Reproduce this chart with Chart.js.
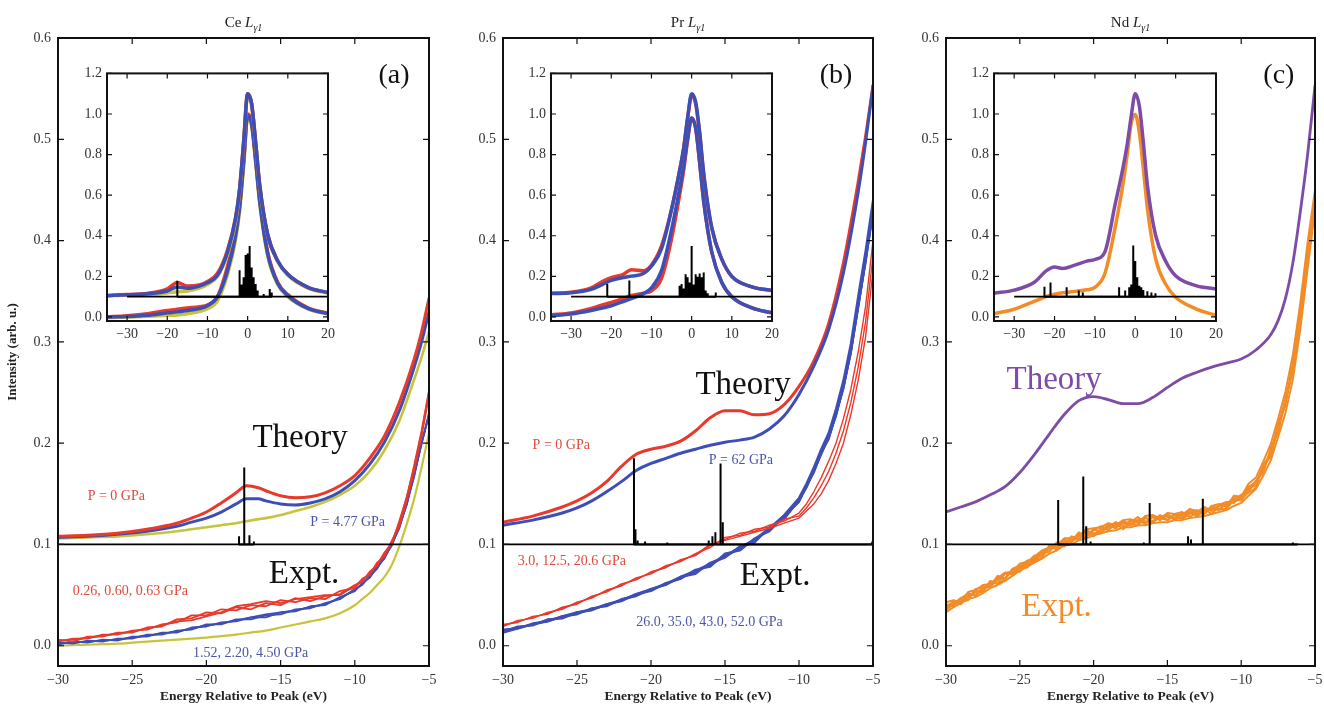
<!DOCTYPE html>
<html>
<head>
<meta charset="utf-8">
<script src="https://cdn.jsdelivr.net/npm/chart.js@4.4.0/dist/chart.umd.min.js"></script>
<style>
  html, body { margin: 0; padding: 0; background: #fff; overflow: hidden; }
  #fig { position: relative; width: 1324px; height: 710px; overflow: hidden; }
  #fig canvas { position: absolute; }
</style>
</head>
<body>
<div id="fig"></div>
<script>
// ---- main panels: axis ticks ----
const MAIN_X_TICKS = [-30, -25, -20, -15, -10, -5];
const MAIN_Y_TICKS = [0.0, 0.1, 0.2, 0.3, 0.4, 0.5, 0.6];
const INSET_X_TICKS = [-30, -20, -10, 0, 10, 20];
const INSET_Y_TICKS = [0.0, 0.2, 0.4, 0.6, 0.8, 1.0, 1.2];
const BASE = 0.1; // offset line between theory and experiment

// ---- (a) Ce ----
const TA_E = [-30, -28, -26, -24, -22, -21, -20, -19, -18, -17.3, -16.5, -16, -15, -14, -13, -12, -11, -10, -9, -8, -7, -6, -5.5, -5];
const TA_RED = [0.108, 0.109, 0.111, 0.115, 0.121, 0.126, 0.132, 0.141, 0.151, 0.158, 0.156, 0.153, 0.148, 0.146, 0.147, 0.151, 0.158, 0.168, 0.185, 0.207, 0.24, 0.283, 0.31, 0.343];
const TA_BLUE = [0.107, 0.108, 0.110, 0.113, 0.118, 0.122, 0.126, 0.132, 0.140, 0.145, 0.145, 0.143, 0.140, 0.139, 0.141, 0.145, 0.152, 0.163, 0.179, 0.201, 0.232, 0.275, 0.3, 0.33];
const TA_YEL = [0.106, 0.107, 0.108, 0.110, 0.113, 0.115, 0.117, 0.119, 0.121, 0.123, 0.125, 0.126, 0.129, 0.133, 0.137, 0.142, 0.149, 0.158, 0.172, 0.193, 0.222, 0.263, 0.285, 0.31];

const EXP_E = [-30, -29, -28, -27, -26, -25, -24, -23, -22, -21, -20, -19, -18, -17, -16, -15, -14, -13, -12, -11, -10, -9.5, -9, -8.5, -8, -7.5, -7, -6.5, -6, -5.5, -5];
const EA_RED1 = [0.006, 0.004, 0.009, 0.009, 0.013, 0.013, 0.018, 0.019, 0.026, 0.027, 0.033, 0.032, 0.038, 0.036, 0.042, 0.040, 0.047, 0.044, 0.049, 0.051, 0.060, 0.063, 0.073, 0.079, 0.092, 0.101, 0.123, 0.146, 0.178, 0.212, 0.252];
const EA_RED2 = [0.004, 0.007, 0.007, 0.011, 0.011, 0.015, 0.016, 0.021, 0.023, 0.030, 0.030, 0.036, 0.035, 0.040, 0.039, 0.045, 0.043, 0.047, 0.046, 0.054, 0.057, 0.066, 0.070, 0.082, 0.088, 0.104, 0.118, 0.143, 0.173, 0.207, 0.247];
const EA_RED3 = [0.005, 0.006, 0.008, 0.010, 0.012, 0.014, 0.017, 0.020, 0.024, 0.025, 0.029, 0.033, 0.039, 0.041, 0.044, 0.042, 0.046, 0.048, 0.050, 0.050, 0.059, 0.065, 0.071, 0.080, 0.091, 0.102, 0.121, 0.147, 0.176, 0.210, 0.25];
const EA_BLUE1 = [0.003, 0.002, 0.005, 0.004, 0.007, 0.007, 0.011, 0.011, 0.015, 0.016, 0.021, 0.021, 0.026, 0.026, 0.030, 0.031, 0.036, 0.037, 0.042, 0.046, 0.056, 0.060, 0.069, 0.076, 0.088, 0.099, 0.118, 0.139, 0.170, 0.199, 0.23];
const EA_BLUE2 = [0.001, 0.004, 0.003, 0.006, 0.005, 0.009, 0.009, 0.013, 0.013, 0.018, 0.019, 0.023, 0.024, 0.028, 0.028, 0.033, 0.034, 0.039, 0.040, 0.048, 0.054, 0.062, 0.067, 0.078, 0.086, 0.101, 0.116, 0.141, 0.167, 0.201, 0.227];
const EA_BLUE3 = [0.002, 0.003, 0.004, 0.005, 0.006, 0.008, 0.010, 0.012, 0.014, 0.017, 0.020, 0.022, 0.025, 0.028, 0.031, 0.033, 0.035, 0.038, 0.041, 0.047, 0.055, 0.061, 0.068, 0.077, 0.087, 0.100, 0.117, 0.140, 0.168, 0.200, 0.228];
const EA_YEL = [0.0, 0.0005, 0.001, 0.0015, 0.002, 0.003, 0.004, 0.005, 0.006, 0.007, 0.008, 0.0095, 0.011, 0.013, 0.015, 0.018, 0.021, 0.024, 0.027, 0.032, 0.04, 0.046, 0.052, 0.06, 0.068, 0.08, 0.098, 0.12, 0.145, 0.176, 0.21];

const SA_E = [-17.8, -17.45, -17.1, -16.8];
const SA_TOP = [0.108, 0.176, 0.109, 0.103];

// ---- (b) Pr ----
const TB_E = [-30, -28, -26, -25, -24, -23, -22, -21, -20, -19, -18, -17, -16, -15, -14, -13, -12, -11, -10, -9, -8, -7, -6, -5.5, -5];
const TB_RED = [0.122, 0.128, 0.137, 0.143, 0.151, 0.162, 0.177, 0.189, 0.194, 0.197, 0.202, 0.212, 0.225, 0.232, 0.232, 0.228, 0.229, 0.238, 0.256, 0.281, 0.318, 0.378, 0.458, 0.503, 0.553];
const TB_BLUE = [0.119, 0.124, 0.131, 0.136, 0.143, 0.152, 0.162, 0.173, 0.180, 0.185, 0.19, 0.194, 0.198, 0.201, 0.203, 0.206, 0.214, 0.227, 0.248, 0.276, 0.312, 0.368, 0.448, 0.497, 0.553];

const EB_RED1 = [0.021, 0.023, 0.029, 0.031, 0.038, 0.041, 0.049, 0.053, 0.061, 0.065, 0.073, 0.077, 0.085, 0.089, 0.099, 0.105, 0.111, 0.113, 0.119, 0.123, 0.131, 0.140, 0.152, 0.166, 0.182, 0.200, 0.224, 0.253, 0.290, 0.335, 0.40];
const EB_RED2 = [0.019, 0.025, 0.027, 0.033, 0.036, 0.043, 0.047, 0.055, 0.059, 0.067, 0.071, 0.079, 0.083, 0.091, 0.097, 0.107, 0.109, 0.115, 0.117, 0.125, 0.128, 0.136, 0.146, 0.158, 0.172, 0.19, 0.212, 0.24, 0.275, 0.32, 0.385];
const EB_RED3 = [0.020, 0.024, 0.028, 0.032, 0.037, 0.042, 0.048, 0.054, 0.060, 0.066, 0.072, 0.078, 0.084, 0.090, 0.100, 0.104, 0.108, 0.112, 0.116, 0.121, 0.126, 0.133, 0.140, 0.150, 0.163, 0.180, 0.200, 0.228, 0.262, 0.305, 0.37];
const EB_BLUE1 = [0.014, 0.019, 0.020, 0.026, 0.027, 0.033, 0.035, 0.041, 0.044, 0.051, 0.054, 0.062, 0.066, 0.075, 0.078, 0.091, 0.094, 0.106, 0.113, 0.128, 0.142, 0.158, 0.171, 0.191, 0.204, 0.229, 0.254, 0.291, 0.334, 0.381, 0.43];
const EB_BLUE2 = [0.016, 0.017, 0.022, 0.024, 0.029, 0.031, 0.037, 0.039, 0.046, 0.049, 0.056, 0.060, 0.068, 0.071, 0.082, 0.087, 0.098, 0.102, 0.117, 0.125, 0.144, 0.156, 0.173, 0.189, 0.206, 0.227, 0.256, 0.289, 0.336, 0.379, 0.428];
const EB_BLUE3 = [0.015, 0.018, 0.021, 0.025, 0.028, 0.032, 0.036, 0.040, 0.045, 0.050, 0.055, 0.061, 0.067, 0.073, 0.080, 0.088, 0.096, 0.104, 0.115, 0.127, 0.143, 0.157, 0.172, 0.190, 0.205, 0.228, 0.255, 0.290, 0.335, 0.380, 0.43];
const EB_BLUE4 = [0.013, 0.017, 0.021, 0.024, 0.029, 0.033, 0.036, 0.041, 0.045, 0.051, 0.056, 0.061, 0.068, 0.074, 0.081, 0.089, 0.097, 0.105, 0.116, 0.129, 0.146, 0.16, 0.176, 0.194, 0.21, 0.234, 0.262, 0.298, 0.345, 0.39, 0.44];

const SB_E = [-21.15, -21.05, -20.9, -20.4, -18.9, -16.1, -15.85, -15.65, -15.3, -15.15, -5.05];
const SB_TOP = [0.185, 0.115, 0.104, 0.103, 0.102, 0.104, 0.108, 0.112, 0.18, 0.122, 0.103];

// ---- (c) Nd ----
const TC_E = [-30, -29, -28, -27, -26, -25, -24, -23, -22, -21, -20, -19, -18, -17, -16, -15, -14, -13, -12, -11, -10, -9, -8, -7.5, -7, -6.5, -6, -5.5, -5];
const TC_PUR = [0.132, 0.137, 0.142, 0.149, 0.157, 0.171, 0.189, 0.209, 0.228, 0.242, 0.246, 0.243, 0.239, 0.239, 0.245, 0.255, 0.264, 0.27, 0.275, 0.279, 0.283, 0.292, 0.307, 0.321, 0.343, 0.378, 0.428, 0.485, 0.553];

const EXP_E_C = [-30, -29.5, -29, -28.5, -28, -27.5, -27, -26.5, -26, -25.5, -25, -24.5, -24, -23.5, -23, -22.5, -22, -21.5, -21, -20.5, -20, -19.5, -19, -18.5, -18, -17.5, -17, -16.5, -16, -15.5, -15, -14.5, -14, -13.5, -13, -12.5, -12, -11.5, -11, -10.5, -10, -9.5, -9, -8.5, -8, -7.5, -7, -6.5, -6, -5.5, -5];
const EC_OR1 = [0.041, 0.039, 0.046, 0.052, 0.049, 0.058, 0.059, 0.069, 0.066, 0.075, 0.073, 0.082, 0.089, 0.088, 0.099, 0.095, 0.103, 0.103, 0.112, 0.107, 0.114, 0.118, 0.114, 0.121, 0.115, 0.122, 0.127, 0.121, 0.127, 0.124, 0.130, 0.124, 0.130, 0.134, 0.129, 0.135, 0.130, 0.138, 0.139, 0.146, 0.143, 0.155, 0.163, 0.171, 0.195, 0.212, 0.244, 0.270, 0.331, 0.381, 0.442];
const EC_OR2 = [0.036, 0.044, 0.041, 0.049, 0.054, 0.053, 0.064, 0.062, 0.071, 0.071, 0.079, 0.077, 0.087, 0.093, 0.093, 0.102, 0.098, 0.105, 0.105, 0.114, 0.111, 0.111, 0.119, 0.116, 0.123, 0.120, 0.119, 0.126, 0.123, 0.129, 0.124, 0.129, 0.125, 0.130, 0.134, 0.130, 0.138, 0.135, 0.135, 0.144, 0.149, 0.151, 0.156, 0.178, 0.188, 0.219, 0.237, 0.279, 0.320, 0.390, 0.437];
const EC_OR3 = [0.039, 0.043, 0.044, 0.045, 0.056, 0.057, 0.058, 0.066, 0.072, 0.070, 0.076, 0.084, 0.083, 0.092, 0.096, 0.097, 0.105, 0.102, 0.110, 0.111, 0.108, 0.116, 0.117, 0.122, 0.118, 0.124, 0.124, 0.120, 0.129, 0.126, 0.124, 0.130, 0.132, 0.127, 0.132, 0.137, 0.133, 0.139, 0.142, 0.141, 0.148, 0.157, 0.161, 0.177, 0.187, 0.217, 0.239, 0.278, 0.322, 0.387, 0.445];
const EC_OR4 = [0.035, 0.041, 0.047, 0.051, 0.050, 0.055, 0.063, 0.061, 0.066, 0.076, 0.079, 0.080, 0.084, 0.087, 0.098, 0.100, 0.100, 0.108, 0.106, 0.108, 0.115, 0.112, 0.120, 0.117, 0.121, 0.119, 0.123, 0.127, 0.122, 0.127, 0.129, 0.126, 0.126, 0.132, 0.128, 0.133, 0.136, 0.134, 0.141, 0.143, 0.144, 0.152, 0.162, 0.173, 0.193, 0.211, 0.242, 0.273, 0.329, 0.382, 0.438];
const EC_OR5 = [0.039, 0.040, 0.047, 0.048, 0.053, 0.054, 0.062, 0.065, 0.067, 0.074, 0.077, 0.084, 0.085, 0.091, 0.093, 0.101, 0.101, 0.103, 0.109, 0.113, 0.110, 0.115, 0.115, 0.120, 0.122, 0.120, 0.124, 0.123, 0.122, 0.128, 0.127, 0.126, 0.131, 0.131, 0.130, 0.134, 0.134, 0.135, 0.140, 0.145, 0.145, 0.156, 0.158, 0.179, 0.189, 0.218, 0.242, 0.274, 0.327, 0.389, 0.443];
const EC_OR6 = [0.043, 0.045, 0.043, 0.053, 0.055, 0.060, 0.061, 0.067, 0.072, 0.073, 0.081, 0.083, 0.088, 0.094, 0.097, 0.099, 0.106, 0.106, 0.108, 0.115, 0.116, 0.117, 0.121, 0.119, 0.124, 0.125, 0.121, 0.128, 0.129, 0.125, 0.131, 0.130, 0.128, 0.135, 0.133, 0.131, 0.138, 0.140, 0.137, 0.148, 0.147, 0.160, 0.166, 0.182, 0.199, 0.224, 0.251, 0.287, 0.338, 0.398, 0.45];
const EC_OR7 = [0.033, 0.038, 0.042, 0.046, 0.048, 0.052, 0.057, 0.060, 0.064, 0.069, 0.074, 0.078, 0.082, 0.086, 0.091, 0.094, 0.099, 0.100, 0.104, 0.106, 0.109, 0.111, 0.113, 0.114, 0.117, 0.117, 0.119, 0.119, 0.121, 0.122, 0.122, 0.124, 0.124, 0.126, 0.127, 0.128, 0.130, 0.132, 0.134, 0.138, 0.141, 0.148, 0.155, 0.168, 0.183, 0.206, 0.23, 0.263, 0.312, 0.372, 0.43];

const SC_E = [-22.4, -20.7, -20.5, -20.2, -16.6, -16.2, -15.7, -13.6, -13.4, -12.6, -8.3, -6.5, -6.2];
const SC_TOP = [0.144, 0.167, 0.118, 0.103, 0.102, 0.141, 0.101, 0.108, 0.105, 0.145, 0.101, 0.102, 0.101];

// ---- insets ----
const IA_E = [-35, -30, -25, -20, -17.5, -15, -12, -10, -7.5, -5, -3, -2, -1, 0, 1, 2, 3, 5, 7.5, 10, 15, 20];
const IA_TH_RED = [0.106, 0.110, 0.116, 0.138, 0.17, 0.152, 0.158, 0.175, 0.215, 0.33, 0.49, 0.63, 0.86, 1.10, 1.05, 0.86, 0.65, 0.405, 0.276, 0.21, 0.146, 0.12];
const IA_TH_BLUE = [0.105, 0.109, 0.114, 0.128, 0.148, 0.141, 0.152, 0.168, 0.205, 0.32, 0.486, 0.63, 0.86, 1.10, 1.05, 0.86, 0.65, 0.405, 0.276, 0.21, 0.146, 0.12];
const IA_TH_YEL = [0.104, 0.107, 0.110, 0.118, 0.124, 0.128, 0.142, 0.16, 0.2, 0.31, 0.47, 0.62, 0.85, 1.09, 1.04, 0.85, 0.64, 0.4, 0.272, 0.205, 0.142, 0.117];
const IA_EX_RED = [0.0, 0.006, 0.016, 0.032, 0.038, 0.044, 0.05, 0.059, 0.1, 0.25, 0.42, 0.55, 0.77, 1.0, 0.96, 0.78, 0.58, 0.32, 0.17, 0.11, 0.045, 0.018];
const IA_EX_BLUE = [0.0, 0.002, 0.008, 0.02, 0.025, 0.032, 0.041, 0.055, 0.1, 0.228, 0.4, 0.54, 0.76, 0.99, 0.95, 0.77, 0.57, 0.31, 0.165, 0.105, 0.042, 0.016];
const IA_EX_YEL = [-0.004, 0.0, 0.003, 0.008, 0.01, 0.016, 0.027, 0.04, 0.08, 0.21, 0.38, 0.52, 0.74, 0.98, 0.94, 0.76, 0.56, 0.3, 0.16, 0.1, 0.04, 0.014];
const ISA_E = [-17.5, -2, -1.5, -1, -0.5, 0, 0.5, 1, 1.5, 2, 2.5, 4, 5.5, 6];
const ISA_TOP = [0.178, 0.23, 0.16, 0.195, 0.305, 0.313, 0.35, 0.243, 0.195, 0.162, 0.13, 0.113, 0.138, 0.12];

const IB_E = [-35, -30, -25, -22, -20, -17, -15, -12, -10, -7.5, -5, -3, -2, -1, 0, 1, 2, 3, 5, 7.5, 10, 15, 20];
const IB_TH_RED = [0.117, 0.122, 0.143, 0.177, 0.194, 0.21, 0.233, 0.228, 0.256, 0.35, 0.53, 0.72, 0.83, 0.98, 1.09, 1.05, 0.9, 0.7, 0.44, 0.285, 0.2, 0.148, 0.13];
const IB_TH_BLUE = [0.115, 0.119, 0.136, 0.162, 0.18, 0.194, 0.201, 0.214, 0.25, 0.335, 0.53, 0.72, 0.83, 0.98, 1.1, 1.06, 0.91, 0.71, 0.44, 0.285, 0.2, 0.148, 0.13];
const IB_EX_RED = [0.01, 0.02, 0.042, 0.06, 0.072, 0.09, 0.106, 0.117, 0.129, 0.19, 0.385, 0.6, 0.72, 0.87, 0.98, 0.93, 0.76, 0.57, 0.32, 0.17, 0.1, 0.045, 0.02];
const IB_EX_BLUE = [0.006, 0.015, 0.032, 0.045, 0.055, 0.076, 0.09, 0.115, 0.143, 0.228, 0.43, 0.63, 0.74, 0.88, 0.98, 0.93, 0.76, 0.57, 0.32, 0.17, 0.1, 0.045, 0.02];
const ISB_E = [-21, -15.5, -5, -3, -2.5, -2, -1.5, -1, -0.5, 0, 0.5, 1, 1.5, 2, 2.5, 3, 3.5, 4, 6];
const ISB_TOP = [0.162, 0.18, 0.105, 0.154, 0.162, 0.14, 0.21, 0.195, 0.17, 0.35, 0.16, 0.21, 0.198, 0.214, 0.195, 0.219, 0.13, 0.117, 0.12];

const IC_E = [-35, -30, -25, -22, -20, -18, -15, -12, -10, -7.5, -5, -3, -2, -1, 0, 1, 2, 3, 5, 7.5, 10, 15, 20];
const IC_TH = [0.117, 0.132, 0.171, 0.228, 0.246, 0.239, 0.255, 0.275, 0.283, 0.322, 0.553, 0.74, 0.85, 0.99, 1.10, 1.04, 0.86, 0.65, 0.405, 0.276, 0.203, 0.154, 0.138];
const IC_EX = [0.016, 0.038, 0.077, 0.101, 0.112, 0.119, 0.126, 0.134, 0.146, 0.215, 0.44, 0.66, 0.8, 0.955, 0.997, 0.91, 0.73, 0.535, 0.29, 0.162, 0.097, 0.04, 0.008];
const ISC_E = [-22.5, -21, -17, -14, -13, -4, -2.5, -1.5, -1, -0.5, 0, 0.5, 1, 1.5, 2, 3, 4, 5];
const ISC_TOP = [0.149, 0.17, 0.146, 0.13, 0.12, 0.146, 0.13, 0.146, 0.16, 0.352, 0.276, 0.195, 0.154, 0.146, 0.133, 0.126, 0.12, 0.117];

// ---- style ----
const SERIF = "'Liberation Serif', 'DejaVu Serif', serif";
const RED = '#e8392b', BLUE = '#3d4fb6', YEL = '#c6c43a', PUR = '#7d4ca6', ORA = '#f28c28';
const RED_TXT = '#e04a3a', BLUE_TXT = '#4b56a8';
Chart.defaults.font.family = SERIF;
Chart.defaults.color = '#333';

const fig = document.getElementById('fig');
const ANNOT = {};

function ln(xs, ys, color, w, smooth) {
  return {
    data: xs.map((x, i) => ({ x: x, y: ys[i] })),
    borderColor: color, borderWidth: w, pointRadius: 0, fill: false,
    tension: 0, cubicInterpolationMode: smooth ? 'monotone' : 'default',
    borderJoinStyle: 'round', borderCapStyle: 'round'
  };
}
function sticks(es, tops, w) {
  const pts = [];
  es.forEach((e, i) => { pts.push({ x: e, y: BASE }, { x: e, y: tops[i] }, { x: e, y: BASE }); });
  return { data: pts, borderColor: '#000', borderWidth: w, pointRadius: 0, fill: false, tension: 0, borderJoinStyle: 'bevel' };
}
function baseline(x0, x1, w) {
  return { data: [{ x: x0, y: BASE }, { x: x1, y: BASE }], borderColor: '#000', borderWidth: w, pointRadius: 0, fill: false };
}
const fmtX = v => (v < 0 ? '\u2212' + Math.abs(v) : String(v));
const fmtY = v => v.toFixed(1);

const framePlugin = {
  id: 'frame',
  afterDatasetsDraw(chart) {
    const cfg = ANNOT[chart.canvas.id];
    const ctx = chart.ctx, a = chart.chartArea;
    const sx = chart.scales.x, sy = chart.scales.y;
    ctx.save();
    ctx.strokeStyle = '#111';
    ctx.lineWidth = 1.2;
    ctx.beginPath();
    sx.ticks.forEach(t => {
      const p = sx.getPixelForValue(t.value);
      ctx.moveTo(p, a.bottom); ctx.lineTo(p, a.bottom - cfg.tick);
      ctx.moveTo(p, a.top); ctx.lineTo(p, a.top + cfg.tick);
    });
    sy.ticks.forEach(t => {
      const p = sy.getPixelForValue(t.value);
      ctx.moveTo(a.left, p); ctx.lineTo(a.left + cfg.tick, p);
      ctx.moveTo(a.right, p); ctx.lineTo(a.right - cfg.tick, p);
    });
    ctx.stroke();
    ctx.lineWidth = cfg.frame;
    ctx.strokeRect(a.left, a.top, a.right - a.left, a.bottom - a.top);

    ctx.textAlign = 'left';
    ctx.textBaseline = 'alphabetic';
    (cfg.labels || []).forEach(l => {
      ctx.font = l.f;
      ctx.fillStyle = l.c;
      ctx.fillText(l.t, sx.getPixelForValue(l.x), sy.getPixelForValue(l.y));
    });

    if (cfg.elem) {
      // "Ce L" with subscript gamma-1
      const f1 = '15px ' + SERIF, f2 = 'italic 15px ' + SERIF, f3 = 'italic 10px ' + SERIF;
      ctx.font = f1; const w1 = ctx.measureText(cfg.elem + ' ').width;
      ctx.font = f2; const w2 = ctx.measureText('L').width;
      ctx.font = f3; const w3 = ctx.measureText('\u03b31').width;
      let x0 = (a.left + a.right) / 2 - (w1 + w2 + w3) / 2;
      const yb = 27;
      ctx.fillStyle = '#222';
      ctx.font = f1; ctx.fillText(cfg.elem + ' ', x0, yb); x0 += w1;
      ctx.font = f2; ctx.fillText('L', x0, yb); x0 += w2;
      ctx.font = f3; ctx.fillText('\u03b31', x0, yb + 4);
    }
    ctx.restore();
  }
};

function makeChart(o) {
  const c = document.createElement('canvas');
  c.id = o.id;
  c.width = o.w; c.height = o.h;
  c.style.left = o.left + 'px';
  c.style.top = o.top + 'px';
  fig.appendChild(c);
  ANNOT[o.id] = o.annot;
  return new Chart(c, {
    type: 'line',
    data: { datasets: o.datasets },
    options: {
      responsive: false,
      animation: false,
      events: [],
      layout: { padding: { top: o.padTop, right: o.padRight, left: 0, bottom: 0 } },
      plugins: { legend: { display: false }, tooltip: { enabled: false } },
      scales: {
        x: {
          type: 'linear', min: o.xMin, max: o.xMax,
          afterBuildTicks: s => { s.ticks = o.xTicks.map(v => ({ value: v })); },
          afterFit: s => { s.height = o.xH; },
          grid: { display: false, drawTicks: false }, border: { display: false },
          ticks: { callback: fmtX, font: { size: 14 }, padding: o.xPad, maxRotation: 0, autoSkip: false, color: '#333' },
          title: o.xTitle
            ? { display: true, text: o.xTitle, color: '#222', font: { size: 13.5, weight: 'bold' }, padding: { top: 0, bottom: 5 } }
            : { display: false }
        },
        y: {
          type: 'linear', min: o.yMin, max: o.yMax,
          afterBuildTicks: s => { s.ticks = o.yTicks.map(v => ({ value: v })); },
          afterFit: s => { s.width = o.yW; },
          grid: { display: false, drawTicks: false }, border: { display: false },
          ticks: { callback: fmtY, font: { size: 14 }, padding: o.yPad, autoSkip: false, color: '#333' },
          title: o.yTitle
            ? { display: true, text: o.yTitle, color: '#222', font: { size: 13, weight: 'bold' }, padding: { top: 5, bottom: 0 } }
            : { display: false }
        }
      }
    },
    plugins: [framePlugin]
  });
}

const BIG = '33px ' + SERIF, PAR = '28px ' + SERIF, SMALL = '14px ' + SERIF;
const XT = 'Energy Relative to Peak (eV)';

function mainPanel(id, left, w, yW, padRight, datasets, annot, yTitle) {
  makeChart({
    id, left, top: 0, w, h: 710, padTop: 38, padRight, yW, xH: 44, xPad: 6, yPad: 7,
    xMin: -30, xMax: -5, yMin: -0.02, yMax: 0.6, xTicks: MAIN_X_TICKS, yTicks: MAIN_Y_TICKS,
    xTitle: XT, yTitle, datasets, annot
  });
}
function insetPanel(id, left, yW, padRight, datasets) {
  makeChart({
    id, left, top: 60, w: 300, h: 290, padTop: 10, padRight, yW, xH: 29, xPad: 5, yPad: 5,
    xMin: -35, xMax: 20, yMin: -0.02, yMax: 1.2, xTicks: INSET_X_TICKS, yTicks: INSET_Y_TICKS,
    datasets, annot: { tick: 5, frame: 2 }
  });
}

// ---- panel (a) ----
mainPanel('ma', 0, 449, 58, 20, [
  sticks(SA_E, SA_TOP, 2),
  baseline(-30, -5, 1.8),
  ln(TA_E, TA_RED, RED, 3, true),
  ln(TA_E, TA_BLUE, BLUE, 3, true),
  ln(TA_E, TA_YEL, YEL, 2.6, true),
  ln(EXP_E, EA_RED1, RED, 1.8, false),
  ln(EXP_E, EA_RED2, RED, 1.8, false),
  ln(EXP_E, EA_RED3, RED, 1.8, false),
  ln(EXP_E, EA_BLUE1, BLUE, 1.8, false),
  ln(EXP_E, EA_BLUE2, BLUE, 1.8, false),
  ln(EXP_E, EA_BLUE3, BLUE, 1.8, false),
  ln(EXP_E, EA_YEL, YEL, 2.2, true)
], {
  tick: 6, frame: 2, elem: 'Ce',
  labels: [
    { t: 'Theory', x: -16.9, y: 0.196, c: '#111', f: BIG },
    { t: 'Expt.', x: -15.8, y: 0.062, c: '#111', f: BIG },
    { t: '(a)', x: -8.4, y: 0.556, c: '#111', f: PAR },
    { t: 'P = 0 GPa', x: -28.0, y: 0.144, c: RED_TXT, f: SMALL },
    { t: 'P = 4.77 GPa', x: -13.0, y: 0.118, c: BLUE_TXT, f: SMALL },
    { t: '0.26, 0.60, 0.63 GPa', x: -29.0, y: 0.050, c: RED_TXT, f: SMALL },
    { t: '1.52, 2.20, 4.50 GPa', x: -20.9, y: -0.011, c: BLUE_TXT, f: SMALL }
  ]
}, 'Intensity (arb. u.)');

// ---- panel (b) ----
mainPanel('mb', 440, 453, 63, 20, [
  sticks(SB_E, SB_TOP, 2),
  baseline(-30, -5, 1.8),
  ln(TB_E, TB_BLUE, BLUE, 3, true),
  ln(TB_E, TB_RED, RED, 3, true),
  ln(EXP_E, EB_RED1, RED, 1.4, false),
  ln(EXP_E, EB_RED2, RED, 1.4, false),
  ln(EXP_E, EB_RED3, RED, 1.4, false),
  ln(EXP_E, EB_BLUE1, BLUE, 2.2, false),
  ln(EXP_E, EB_BLUE2, BLUE, 2.2, false),
  ln(EXP_E, EB_BLUE3, BLUE, 2.2, false),
  ln(EXP_E, EB_BLUE4, BLUE, 2.2, false)
], {
  tick: 6, frame: 2, elem: 'Pr',
  labels: [
    { t: 'Theory', x: -17.0, y: 0.249, c: '#111', f: BIG },
    { t: 'Expt.', x: -14.0, y: 0.06, c: '#111', f: BIG },
    { t: '(b)', x: -8.6, y: 0.556, c: '#111', f: PAR },
    { t: 'P = 0 GPa', x: -28.0, y: 0.194, c: RED_TXT, f: SMALL },
    { t: 'P = 62 GPa', x: -16.1, y: 0.179, c: BLUE_TXT, f: SMALL },
    { t: '3.0, 12.5, 20.6 GPa', x: -29.0, y: 0.080, c: RED_TXT, f: SMALL },
    { t: '26.0, 35.0, 43.0, 52.0 GPa', x: -21.0, y: 0.019, c: BLUE_TXT, f: SMALL }
  ]
});

// ---- panel (c) ----
mainPanel('mc', 880, 460, 66, 25, [
  sticks(SC_E, SC_TOP, 2),
  baseline(-30, -5, 1.8),
  ln(TC_E, TC_PUR, PUR, 2.8, true),
  ln(EXP_E_C, EC_OR1, ORA, 2, false),
  ln(EXP_E_C, EC_OR2, ORA, 2, false),
  ln(EXP_E_C, EC_OR3, ORA, 2, false),
  ln(EXP_E_C, EC_OR4, ORA, 2, false),
  ln(EXP_E_C, EC_OR5, ORA, 2, false),
  ln(EXP_E_C, EC_OR6, ORA, 2, false),
  ln(EXP_E_C, EC_OR7, ORA, 2, false)
], {
  tick: 6, frame: 2, elem: 'Nd',
  labels: [
    { t: 'Theory', x: -25.9, y: 0.253, c: PUR, f: BIG },
    { t: 'Expt.', x: -24.9, y: 0.029, c: ORA, f: BIG },
    { t: '(c)', x: -8.5, y: 0.556, c: '#111', f: PAR }
  ]
});

// ---- insets ----
insetPanel('ia', 60, 47, 32, [
  sticks(ISA_E, ISA_TOP, 2),
  baseline(-30, 20, 1.8),
  ln(IA_E, IA_TH_BLUE, BLUE, 3.5, true),
  ln(IA_E, IA_TH_RED, RED, 3.5, true),
  ln(IA_E, IA_TH_YEL, YEL, 3.5, true),
  ln(IA_E, IA_EX_BLUE, BLUE, 3.5, true),
  ln(IA_E, IA_EX_RED, RED, 3.5, true),
  ln(IA_E, IA_EX_YEL, YEL, 3.5, true)
]);
insetPanel('ib', 500, 51, 28, [
  sticks(ISB_E, ISB_TOP, 2),
  baseline(-30, 20, 1.8),
  ln(IB_E, IB_TH_BLUE, BLUE, 3.5, true),
  ln(IB_E, IB_TH_RED, RED, 3.5, true),
  ln(IB_E, IB_EX_BLUE, BLUE, 3.5, true),
  ln(IB_E, IB_EX_RED, RED, 3.5, true)
]);
insetPanel('ic', 945, 49, 29, [
  sticks(ISC_E, ISC_TOP, 2),
  baseline(-30, 20, 1.8),
  ln(IC_E, IC_TH, PUR, 3.5, true),
  ln(IC_E, IC_EX, ORA, 3.5, true)
]);
</script>
</body>
</html>
